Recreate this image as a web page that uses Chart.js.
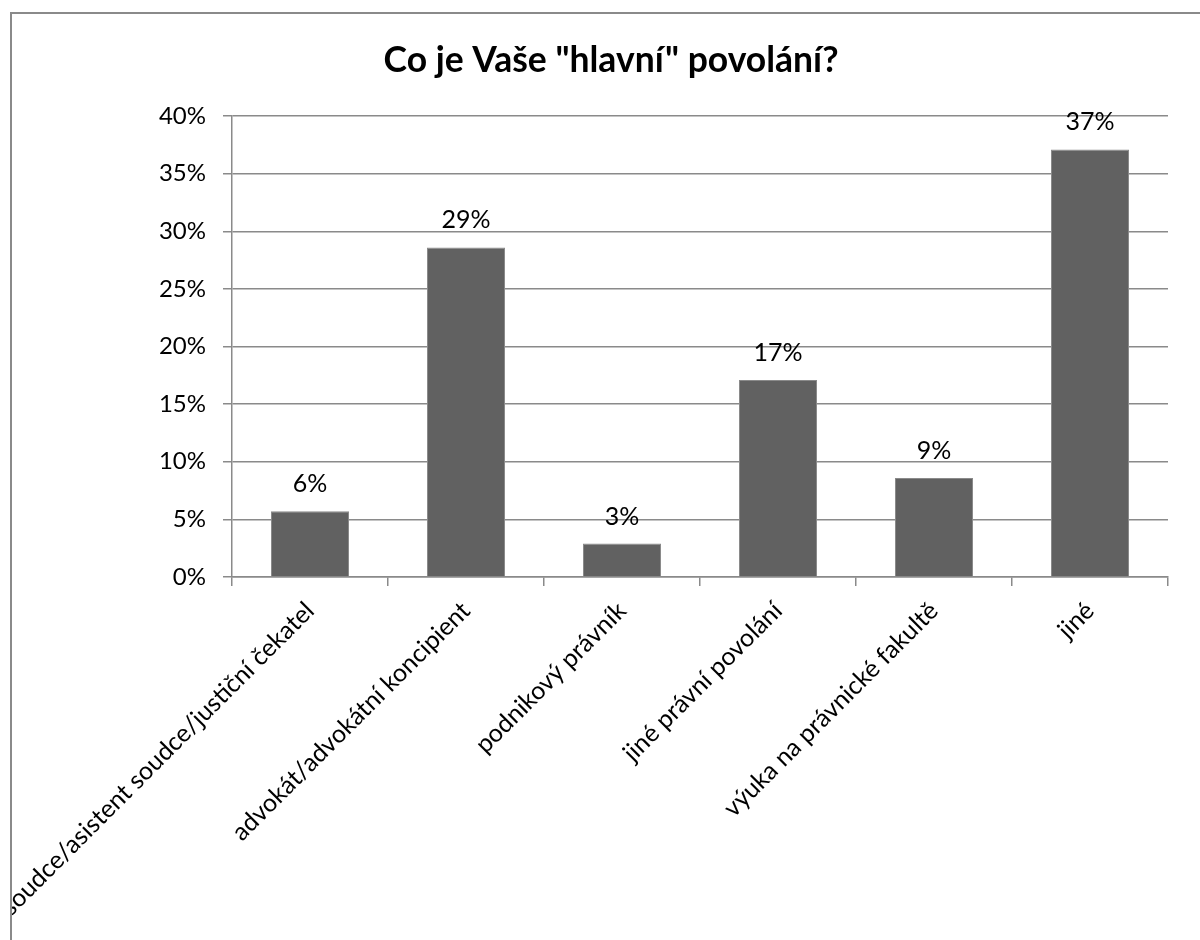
<!DOCTYPE html>
<html>
<head>
<meta charset="utf-8">
<script src="https://cdn.jsdelivr.net/npm/chart.js@4"></script>
<style>
    html, body { margin: 0; padding: 0; background: #ffffff; }
    #ramecek {
        position: absolute;
        left: 10px;
        top: 12px;
        width: 1190px;
        height: 928px;
        border-top: 2px solid #8a8a8a;
        border-left: 2px solid #8a8a8a;
        overflow: hidden;
    }
    #graf { display: block; }
</style>
</head>
<body>
<div id="ramecek">
    <canvas id="graf" width="1188" height="926"></canvas>
</div>
<script>
// odpovědi na otázku o hlavním povolání (podíl v %)
const kategorie = [
    'soudce/asistent soudce/justiční čekatel',
    'advokát/advokátní koncipient',
    'podnikový právník',
    'jiné právní povolání',
    'výuka na právnické fakultě',
    'jiné'
];
const podily = [5.7, 28.6, 2.9, 17.1, 8.6, 37.1];
const osaY = [0, 5, 10, 15, 20, 25, 30, 35, 40];

const pismo = 'Lato, "Open Sans", sans-serif';
const seda = '#8a8a8a';

// popisky hodnot nad sloupci
const popiskyHodnot = {
    id: 'popiskyHodnot',
    afterDatasetsDraw(chart) {
        const ctx = chart.ctx;
        const meta = chart.getDatasetMeta(0);
        ctx.save();
        ctx.font = '25px ' + pismo;
        ctx.fillStyle = '#000000';
        ctx.textAlign = 'center';
        ctx.textBaseline = 'alphabetic';
        meta.data.forEach(function(bar, i) {
            const hodnota = chart.data.datasets[0].data[i];
            ctx.fillText(Math.round(hodnota) + '%', bar.x, bar.y - 19);
        });
        ctx.restore();
    }
};

const ctx = document.getElementById('graf').getContext('2d');
new Chart(ctx, {
    type: 'bar',
    data: {
        labels: kategorie,
        datasets: [{
            data: podily,
            backgroundColor: '#616161',
            borderColor: '#8a8a8a',
            borderWidth: 1,
            barPercentage: 0.5,
            categoryPercentage: 1.0
        }]
    },
    options: {
        responsive: false,
        animation: false,
        layout: { padding: { left: 10, right: 0, top: 0, bottom: 0 } },
        plugins: {
            legend: { display: false },
            tooltip: { enabled: false },
            title: {
                display: true,
                text: 'Co je Vaše "hlavní" povolání?',
                color: '#000000',
                font: { family: pismo, size: 35.5, weight: 'bold', lineHeight: 1.2 },
                padding: { top: 25, bottom: 34.4 }
            }
        },
        scales: {
            x: {
                grid: {
                    display: true,
                    drawOnChartArea: false,
                    offset: true,
                    tickLength: 9,
                    color: seda,
                    lineWidth: 1.5
                },
                border: { display: true, color: seda, width: 1.5 },
                ticks: {
                    autoSkip: false,
                    minRotation: 45,
                    maxRotation: 45,
                    padding: 10,
                    color: '#000000',
                    font: { family: pismo, size: 25 }
                },
                afterFit: function(scale) {
                    scale.height = 363;
                    scale.paddingLeft = 0;
                    scale.paddingRight = 0;
                }
            },
            y: {
                min: 0,
                max: 40,
                afterBuildTicks: function(scale) {
                    scale.ticks = osaY.map(v => ({ value: v }));
                },
                grid: {
                    color: seda,
                    lineWidth: 1.5,
                    tickLength: 9
                },
                border: { display: true, color: seda, width: 1.5 },
                ticks: {
                    padding: 17,
                    color: '#000000',
                    font: { family: pismo, size: 24 },
                    callback: v => v + '%'
                },
                afterFit: function(scale) {
                    scale.width = 210;
                }
            },
            // prázdný okraj vpravo, aby nadpis zůstal uprostřed celé plochy
            okraj: {
                position: 'right',
                display: true,
                grid: { display: false },
                border: { display: false },
                ticks: { display: false },
                afterFit: function(scale) {
                    scale.width = 32;
                }
            }
        }
    },
    plugins: [popiskyHodnot]
});
</script>
</body>
</html>
